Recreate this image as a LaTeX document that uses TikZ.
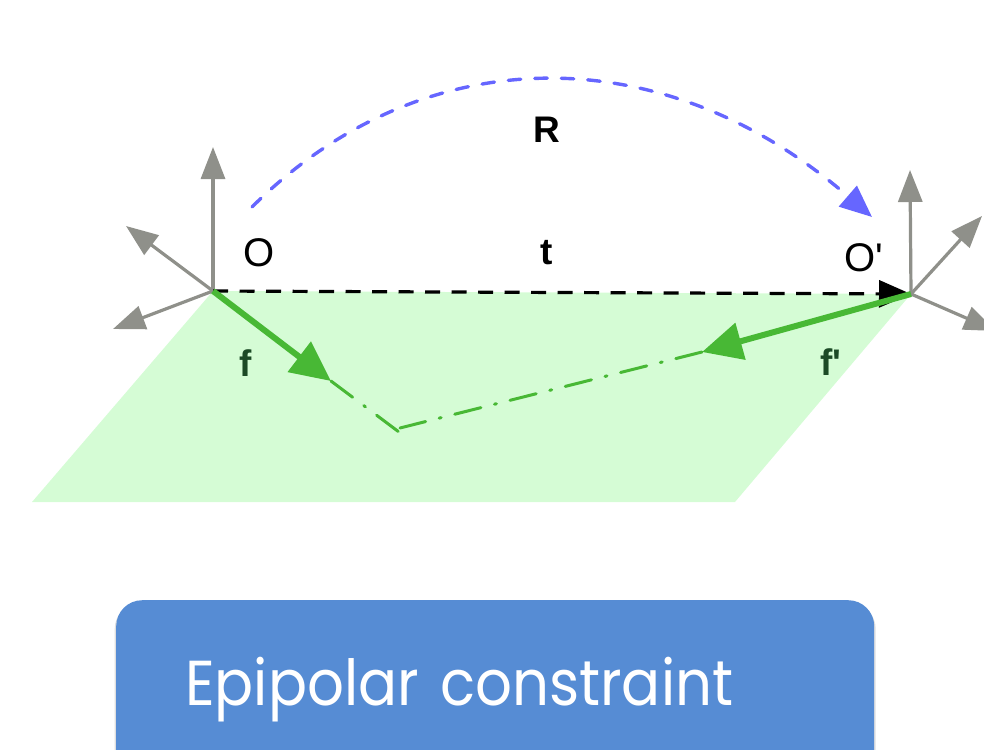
\documentclass[tikz,border=0pt]{standalone}
\usepackage{fontspec}
\newfontfamily\labelfont{Liberation Sans}
\newfontfamily\titlefont[FakeStretch=0.91]{Poppins}
\usepackage{xcolor}
\usetikzlibrary{arrows.meta,positioning,shadows}
\definecolor{axisgray}{HTML}{8F908A}
\definecolor{raygreen}{HTML}{48B835}
\definecolor{planegreen}{HTML}{D5FCD5}
\definecolor{labelgreen}{HTML}{1C4A26}
\definecolor{rotblue}{HTML}{6666FF}
\definecolor{titleblue}{HTML}{568CD4}

\begin{document}
\begin{tikzpicture}[
  x=1pt, y=-1pt,
  axis/.style={draw=axisgray, line width=3.2pt, -{Triangle[length=32pt, width=24pt]}},
  ray/.style={draw=raygreen, line width=6pt, -{Triangle[length=40pt, width=37pt]}},
  sight/.style={draw=raygreen, line width=3pt, line cap=round, dash pattern=on 27pt off 14pt on 2pt off 14pt},
  baseline/.style={draw=black, line width=3.2pt, dash pattern=on 15pt off 11.5pt, -{Triangle[length=32pt, width=27pt]}},
  rotation/.style={draw=rotblue, line width=3.4pt, line cap=round, dash pattern=on 12.5pt off 14pt, -{Triangle[length=32pt, width=27pt]}},
  lbl/.style={inner sep=0pt, font=\labelfont\fontsize{40}{40}\selectfont},
  boldlbl/.style={inner sep=0pt, font=\labelfont\fontsize{37}{37}\selectfont\bfseries},
  fociLbl/.style={boldlbl, text=labelgreen}
]
\clip[use as bounding box] (0,0) rectangle (984,749);
% camera centres and plane corners
\coordinate (o) at (213,291);
\coordinate (op) at (911,294);
\coordinate (pl) at (32,502);
\coordinate (pr) at (735,502);
\coordinate (fend) at (331,381);
\coordinate (fpend) at (702,352);
\coordinate (pa) at (399,432);
\coordinate (pb) at (400,428);
\fill[planegreen] (o) -- (op) -- (pr) -- (pl) -- cycle;
% axes
\coordinate (ox) at (113,329);
\coordinate (oy) at (213,147);
\coordinate (oz) at (126,226);
\coordinate (opx) at (996,331);
\coordinate (opy) at (910,170);
\coordinate (opz) at (982,216);
\draw[axis] (o) -- (ox);
\draw[axis] (o) -- (oy);
\draw[axis] (o) -- (oz);
\draw[axis] (op) -- (opx);
\draw[axis] (op) -- (opy);
\draw[axis] (op) -- (opz);
% translation and rotation
\draw[baseline] (o) -- (op);
\coordinate (rs) at (252,207);
\coordinate (re) at (872,217);
\draw[rotation] (rs) .. controls (420,40) and (660,34) .. (re);
% rays
\draw[sight] (fend) -- (pa);
\draw[sight] (fpend) -- (pb);
\draw[ray] (o) -- (fend);
\draw[ray] (op) -- (fpend);
% labels
\node[boldlbl] (r) at (547,130) {R};
\node[boldlbl] (t) at (547,253) {t};
\node[lbl] (olbl) at (259,253) {O};
\node[lbl] (oplbl) at (864,258) {O'};
\node[fociLbl] (f) at (246,363) {f};
\node[fociLbl] (fp) at (831,362) {f'};
% title
\node[minimum height=178pt, minimum width=758pt, inner xsep=69pt, inner ysep=0pt, text width=620pt, align=left,
  fill=titleblue, rounded corners=26pt, text=white, font=\titlefont\fontsize{63.5}{64}\selectfont,
  drop shadow={shadow xshift=0pt, shadow yshift=-3pt, shadow scale=1.004, opacity=.25},
  anchor=north west] (title) at (116,600) {Epipolar constraint};
\end{tikzpicture}
\end{document}
